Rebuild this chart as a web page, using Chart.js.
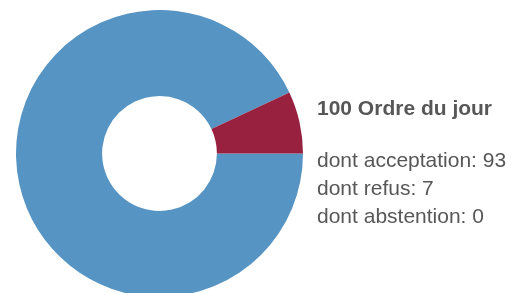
<!DOCTYPE html>
<html>
<head>
<meta charset="utf-8">
<script src="https://cdn.jsdelivr.net/npm/chart.js@4"></script>
<style>
  html, body { margin: 0; padding: 0; background: #fff; overflow: hidden; }
  #wrap { position: relative; width: 516px; height: 297px; }
</style>
</head>
<body>
<div id="wrap"><canvas id="chart" width="516" height="297"></canvas></div>
<script>
const categories = ['acceptation', 'refus', 'abstention'];
const values = [93, 7, 0];
const title = 'Ordre du jour';
const colors = ['#5694c3', '#98213f', '#a0a0a0'];

const total = values.reduce((a, b) => a + b, 0);

// text block on the right side
const summaryText = {
  id: 'summaryText',
  afterDraw(chart) {
    const ctx = chart.ctx;
    ctx.save();
    ctx.fillStyle = '#575757';
    ctx.textBaseline = 'alphabetic';
    ctx.textAlign = 'left';
    ctx.font = 'bold 21px "Liberation Sans", Arial, sans-serif';
    ctx.fillText(total + ' ' + title, 317, 115);
    ctx.font = '21px "Liberation Sans", Arial, sans-serif';
    const baselines = [167, 195, 222.5];
    categories.forEach((c, i) => {
      ctx.fillText('dont ' + c + ': ' + values[i], 317, baselines[i]);
    });
    ctx.restore();
  }
};

new Chart(document.getElementById('chart'), {
  type: 'doughnut',
  data: {
    labels: categories,
    datasets: [{
      data: values,
      backgroundColor: colors,
      borderWidth: 0
    }]
  },
  options: {
    responsive: false,
    animation: false,
    rotation: 90,
    cutout: '40%',
    layout: { padding: { left: 16, top: 10, right: 213, bottom: 0 } },
    plugins: {
      legend: { display: false },
      tooltip: { enabled: false }
    }
  },
  plugins: [summaryText]
});
</script>
</body>
</html>
